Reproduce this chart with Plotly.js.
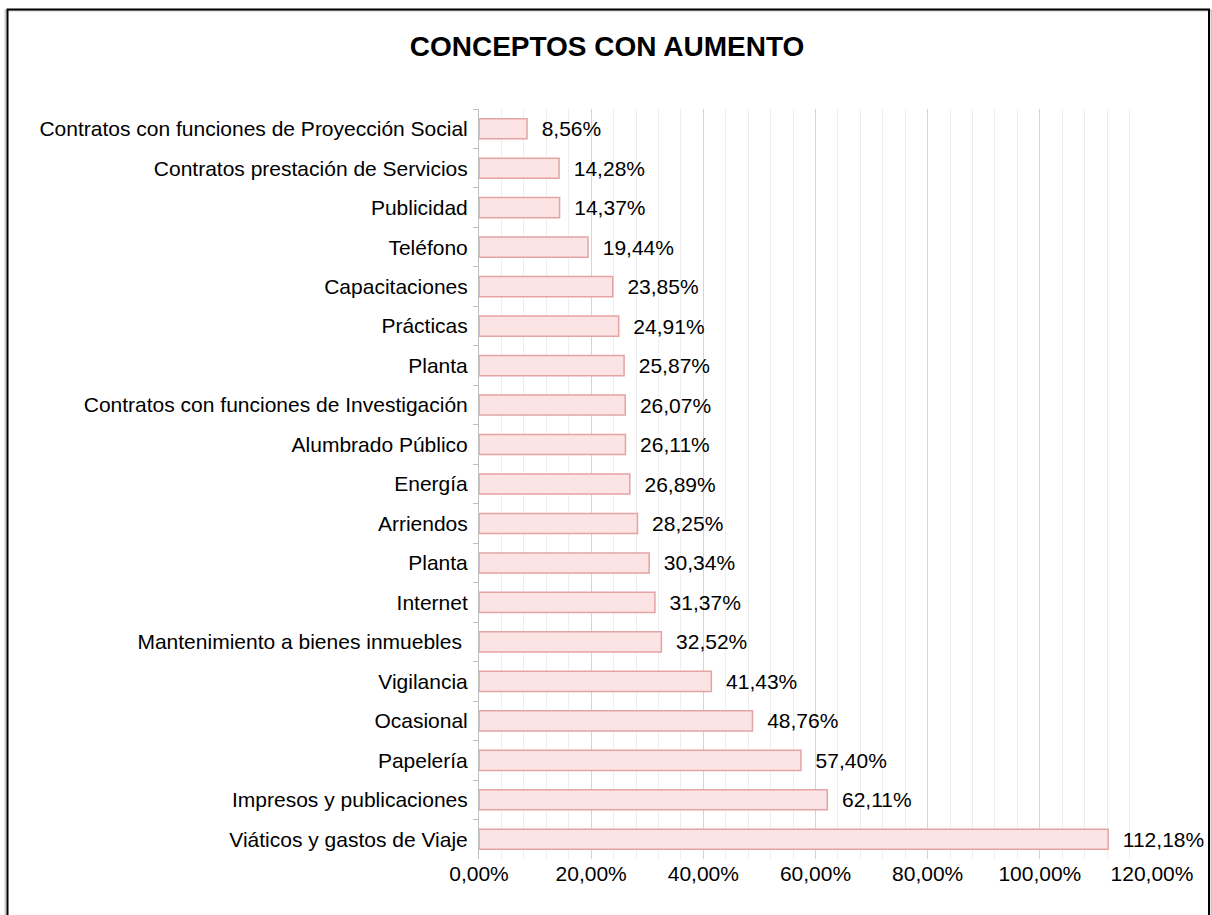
<!DOCTYPE html>
<html>
<head>
<meta charset="utf-8">
<script src="https://cdn.plot.ly/plotly-3.0.1.min.js"></script>
<style>
html,body{margin:0;padding:0;background:#fff;}
#chart{width:1212px;height:915px;}
</style>
</head>
<body>
<div id="chart"></div>
<script>
// Data (top to bottom as shown)
const categories = [
  "Contratos con funciones de Proyección Social",
  "Contratos prestación de Servicios",
  "Publicidad",
  "Teléfono",
  "Capacitaciones",
  "Prácticas",
  "Planta",
  "Contratos con funciones de Investigación",
  "Alumbrado Público",
  "Energía",
  "Arriendos",
  "Planta\u200b",
  "Internet",
  "Mantenimiento a bienes inmuebles ",
  "Vigilancia",
  "Ocasional",
  "Papelería",
  "Impresos y publicaciones",
  "Viáticos y gastos de Viaje"
];
const values = [8.56, 14.28, 14.37, 19.44, 23.85, 24.91, 25.87, 26.07, 26.11, 26.89,
                28.25, 30.34, 31.37, 32.52, 41.43, 48.76, 57.40, 62.11, 112.18];

const L = 479, R = 1152, T = 109, B = 859, W = 1212, H = 915;
const pw = R - L, ph = B - T;
const px = v => (v - L) / pw;
const py = v => (B - v) / ph;
const FONT = 'Arial, Liberation Sans, sans-serif';
const FS = 21;

const trace = {
  type: 'bar',
  orientation: 'h',
  x: values,
  y: categories,
  marker: {color: '#fde4e4', line: {color: '#e4a4a4', width: 1.5}},
  texttemplate: '\u00a0\u00a0%{x:.2f}%',
  textposition: 'outside',
  constraintext: 'none',
  cliponaxis: false,
  textfont: {family: FONT, size: FS, color: '#000'},
  hoverinfo: 'none'
};

const layout = {
  width: W, height: H,
  margin: {l: L, r: W - R, t: T, b: H - B, pad: 0},
  paper_bgcolor: '#fff', plot_bgcolor: '#fff',
  separators: ',.',
  showlegend: false,
  bargap: 0.49,
  font: {family: FONT, size: FS, color: '#000'},
  title: {
    text: '<b>CONCEPTOS CON AUMENTO</b>',
    font: {family: FONT, size: 28, color: '#000'},
    xref: 'container', yref: 'container',
    x: 607 / W, xanchor: 'center',
    y: (H - 46) / H, yanchor: 'middle'
  },
  xaxis: {
    range: [0, 120],
    dtick: 20, tick0: 0,
    tickformat: '.2f', ticksuffix: '%',
    showgrid: true, gridcolor: '#d4d4d4', gridwidth: 1,
    minor: {dtick: 4, tick0: 0, showgrid: true, gridcolor: '#eeeeee', gridwidth: 1},
    zeroline: false, showline: false, ticks: '',
    tickfont: {size: FS}
  },
  yaxis: {
    type: 'category',
    autorange: 'reversed',
    showgrid: false, zeroline: false,
    showline: true, linecolor: '#bfbfbf', linewidth: 1,
    ticks: 'outside', ticklen: 5, tickcolor: '#bfbfbf', tickson: 'boundaries',
    ticklabelstandoff: 6,
    tickfont: {size: FS}
  },
  shapes: [
    {type: 'rect', xref: 'paper', yref: 'paper',
     x0: px(5.5), x1: px(1211.5), y0: py(935), y1: py(10.5),
     line: {color: '#c8c8c8', width: 2}, fillcolor: 'rgba(0,0,0,0)', layer: 'below'},
    {type: 'rect', xref: 'paper', yref: 'paper',
     x0: px(7.5), x1: px(1209), y0: py(935), y1: py(9.5),
     line: {color: '#000', width: 2}, fillcolor: 'rgba(0,0,0,0)', layer: 'above'}
  ]
};

Plotly.newPlot('chart', [trace], layout, {displayModeBar: false, staticPlot: true});
</script>
</body>
</html>
